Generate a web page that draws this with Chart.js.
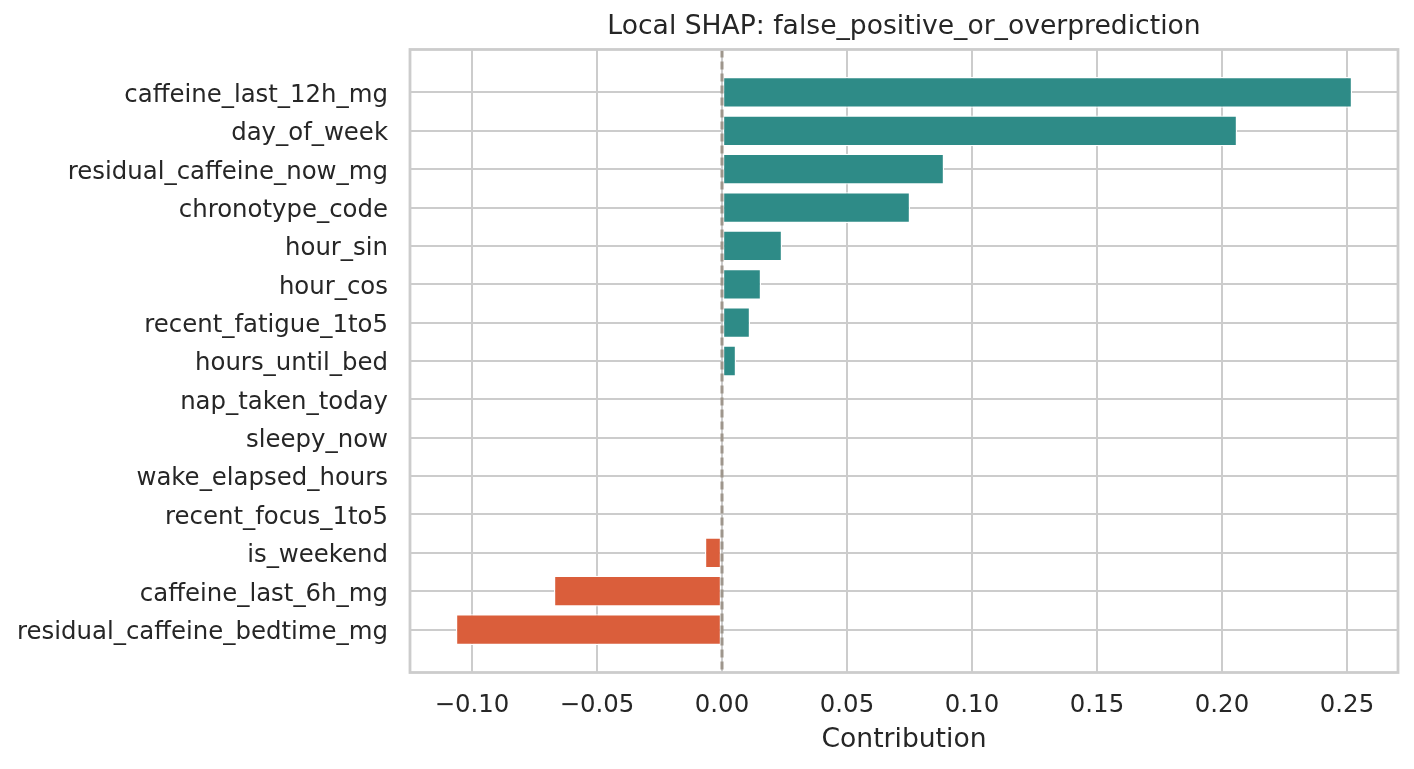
<!DOCTYPE html>
<html>
<head>
<meta charset="utf-8">
<script src="https://cdn.jsdelivr.net/npm/chart.js@4"></script>
<style>
  html, body { margin: 0; padding: 0; background: #fff; }
  canvas { display: block; }
</style>
</head>
<body>
<canvas id="chart" width="1414" height="769"></canvas>
<script>
// ========== DATA ==========
const features = [
    'caffeine_last_12h_mg', 'day_of_week', 'residual_caffeine_now_mg', 'chronotype_code',
    'hour_sin', 'hour_cos', 'recent_fatigue_1to5', 'hours_until_bed', 'nap_taken_today',
    'sleepy_now', 'wake_elapsed_hours', 'recent_focus_1to5', 'is_weekend',
    'caffeine_last_6h_mg', 'residual_caffeine_bedtime_mg'
];
const contributions = [
    0.252, 0.206, 0.0888, 0.0752, 0.024, 0.0156, 0.0112, 0.0056, 0, 0, 0, 0,
    -0.0068, -0.0672, -0.1064
];
const xTicks = [-0.10, -0.05, 0.00, 0.05, 0.10, 0.15, 0.20, 0.25];
const chartTitle = 'Local SHAP: false_positive_or_overprediction';

const POS_COLOR = '#2e8b87';
const NEG_COLOR = '#da5e3b';
const GRID = '#cccccc';
const TEXT = '#262626';
const FONT = "'DejaVu Sans', sans-serif";

// frame round the plot, dashed zero line, title centred over the plot area
const framePlugin = {
    id: 'frame',
    afterDatasetsDraw(chart) {
        const { ctx, chartArea: a, scales } = chart;
        const x0 = scales.x.getPixelForValue(0);
        ctx.save();
        ctx.strokeStyle = '#9e968c';
        ctx.lineWidth = 3;
        ctx.setLineDash([8, 4]);
        ctx.beginPath();
        ctx.moveTo(x0, a.top);
        ctx.lineTo(x0, a.bottom);
        ctx.stroke();
        ctx.setLineDash([]);
        ctx.strokeStyle = GRID;
        ctx.lineWidth = 2.8;
        ctx.strokeRect(a.left, a.top, a.right - a.left, a.bottom - a.top);

        ctx.fillStyle = TEXT;
        ctx.font = "26.6px 'DejaVu Sans', sans-serif";
        ctx.textAlign = 'center';
        ctx.textBaseline = 'middle';
        ctx.fillText(chartTitle, (a.left + a.right) / 2, a.top - 22);
        ctx.restore();
    }
};

new Chart(document.getElementById('chart'), {
    type: 'bar',
    data: {
        datasets: [{
            data: features.map((f, i) => ({ x: contributions[i], y: i })),
            backgroundColor: contributions.map(v => v >= 0 ? POS_COLOR : NEG_COLOR),
            borderColor: '#ffffff',
            borderWidth: 1.2,
            borderSkipped: false,
            categoryPercentage: 0.8,
            barPercentage: 1.0
        }]
    },
    options: {
        indexAxis: 'y',
        responsive: false,
        devicePixelRatio: 1,
        animation: false,
        layout: { padding: { left: 0, right: 16, top: 49.5, bottom: 0 } },
        scales: {
            x: {
                type: 'linear',
                min: -0.1248,
                max: 0.2704,
                afterBuildTicks: s => { s.ticks = xTicks.map(v => ({ value: v })); },
                afterFit: s => { s.height = 96.5; },
                grid: { color: GRID, lineWidth: 2, drawTicks: false },
                border: { display: false },
                ticks: {
                    color: TEXT,
                    padding: 19,
                    font: { family: FONT, size: 24.4 },
                    callback: v => (v < 0 ? '\u2212' : '') + Math.abs(v).toFixed(2)
                },
                title: {
                    display: true,
                    text: 'Contribution',
                    color: TEXT,
                    font: { family: FONT, size: 26.6 },
                    padding: { top: 0, bottom: 13 }
                }
            },
            y: {
                type: 'linear',
                reverse: true,
                offset: false,
                min: -1.12,
                max: 15.12,
                afterBuildTicks: s => { s.ticks = features.map((f, i) => ({ value: i })); },
                afterFit: s => { s.width = 410; },
                grid: { color: GRID, lineWidth: 2, drawTicks: false, offset: false },
                border: { display: false },
                ticks: {
                    color: TEXT,
                    padding: 22,
                    labelOffset: 3,
                    autoSkip: false,
                    font: { family: FONT, size: 24.4 },
                    callback: v => features[v]
                }
            }
        },
        plugins: {
            legend: { display: false },
            tooltip: { enabled: false },
            title: { display: false }
        }
    },
    plugins: [framePlugin]
});
</script>
</body>
</html>
